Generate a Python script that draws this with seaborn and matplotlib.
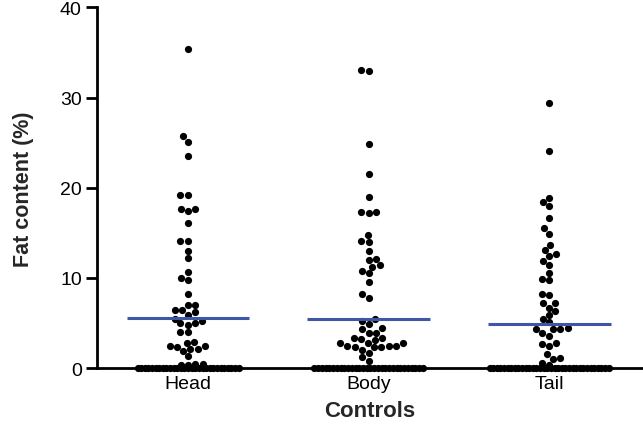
import numpy as np
import pandas as pd
import matplotlib
matplotlib.use("Agg")
import matplotlib.pyplot as plt
import seaborn as sns

categories = ["Head", "Body", "Tail"]

head_nonzero = [35.4, 25.7, 25.1, 23.5, 19.2, 19.2, 17.6, 17.4, 17.6, 16.1, 14.1, 14.1,
                13.0, 12.2, 10.7, 9.8, 10.0, 8.2, 7.0, 7.0, 6.4, 6.4, 6.2, 5.9, 5.5,
                5.0, 5.2, 4.8, 5.0, 4.0, 4.0, 2.8, 2.9, 2.1, 2.5, 2.1, 1.9, 2.4, 2.5,
                1.3, 0.5, 0.5, 0.4, 0.3]
body_nonzero = [33.1, 32.9, 24.9, 21.5, 19.0, 17.3, 17.2, 17.3, 14.8, 14.1, 14.0, 13.0,
                12.1, 12.0, 11.4, 11.2, 10.8, 10.5, 9.5, 8.2, 7.8, 5.4, 5.2, 4.9, 4.5,
                4.4, 3.95, 3.95, 3.4, 3.4, 3.2, 3.1, 2.8, 2.8, 2.5, 2.5, 2.8, 2.3, 2.5,
                2.0, 2.3, 2.3, 1.7, 1.2, 0.8]
tail_nonzero = [29.4, 24.1, 18.9, 18.4, 18.0, 16.6, 15.5, 14.9, 13.7, 12.7, 13.1, 12.4,
                11.9, 11.4, 10.6, 9.8, 9.9, 8.1, 8.2, 7.2, 7.2, 6.3, 6.7, 5.9, 5.5, 5.1,
                4.4, 4.3, 4.4, 4.5, 3.6, 3.9, 2.7, 2.8, 2.5, 1.55, 1.1, 1.0, 0.6, 0.3]
zero_counts = [29, 30, 34]

y_ticks = [0, 10, 20, 30, 40]
y_label = "Fat content (%)"
x_label = "Controls"

nonzero = [head_nonzero, body_nonzero, tail_nonzero]

sns.set_style("ticks")
plt.rcParams["font.family"] = ["Liberation Sans", "DejaVu Sans"]

fig = plt.figure(figsize=(6.43, 4.39), dpi=100)
ax = fig.add_axes([0.151, 0.159, 0.849, 0.822])

df = pd.DataFrame({
    "group": np.concatenate([[c] * len(v) for c, v in zip(categories, nonzero)]),
    "value": np.concatenate(nonzero),
})

dot = 5.2
sns.swarmplot(data=df, x="group", y="value", order=categories, color="black",
              size=dot, linewidth=0, ax=ax, clip_on=False, zorder=3)

# zero values spread in a dense row along the baseline
half_widths = [0.28, 0.30, 0.33]
for i, (n, hw) in enumerate(zip(zero_counts, half_widths)):
    xs = i + np.linspace(-hw, hw, n)
    ax.scatter(xs, np.zeros(n), s=dot ** 2, color="black", linewidths=0,
               clip_on=False, zorder=3)

# mean lines
for i, (vals, n) in enumerate(zip(nonzero, zero_counts)):
    m = np.sum(vals) / (len(vals) + n)
    ax.hlines(m, i - 0.34, i + 0.34, color="#3F55A5", linewidth=2.2, zorder=4)

ax.set_xlim(-0.504, 2.52)
ax.set_ylim(0, 40)
ax.set_yticks(y_ticks)
ax.set_xticks(range(len(categories)))
ax.set_xticklabels(categories)

for s in ["top", "right"]:
    ax.spines[s].set_visible(False)
for s in ["left", "bottom"]:
    ax.spines[s].set_linewidth(2.0)
    ax.spines[s].set_color("black")
    ax.spines[s].set_zorder(2)

ax.tick_params(axis="y", length=8, width=2.0, labelsize=14, pad=3, colors="black")
ax.tick_params(axis="x", length=0, labelsize=14, pad=5, colors="black")

ax.set_ylabel(y_label, fontsize=15.5, fontweight="bold", labelpad=19)
ax.set_xlabel(x_label, fontsize=16, fontweight="bold", labelpad=6)

fig.savefig("out.png", dpi=100)
